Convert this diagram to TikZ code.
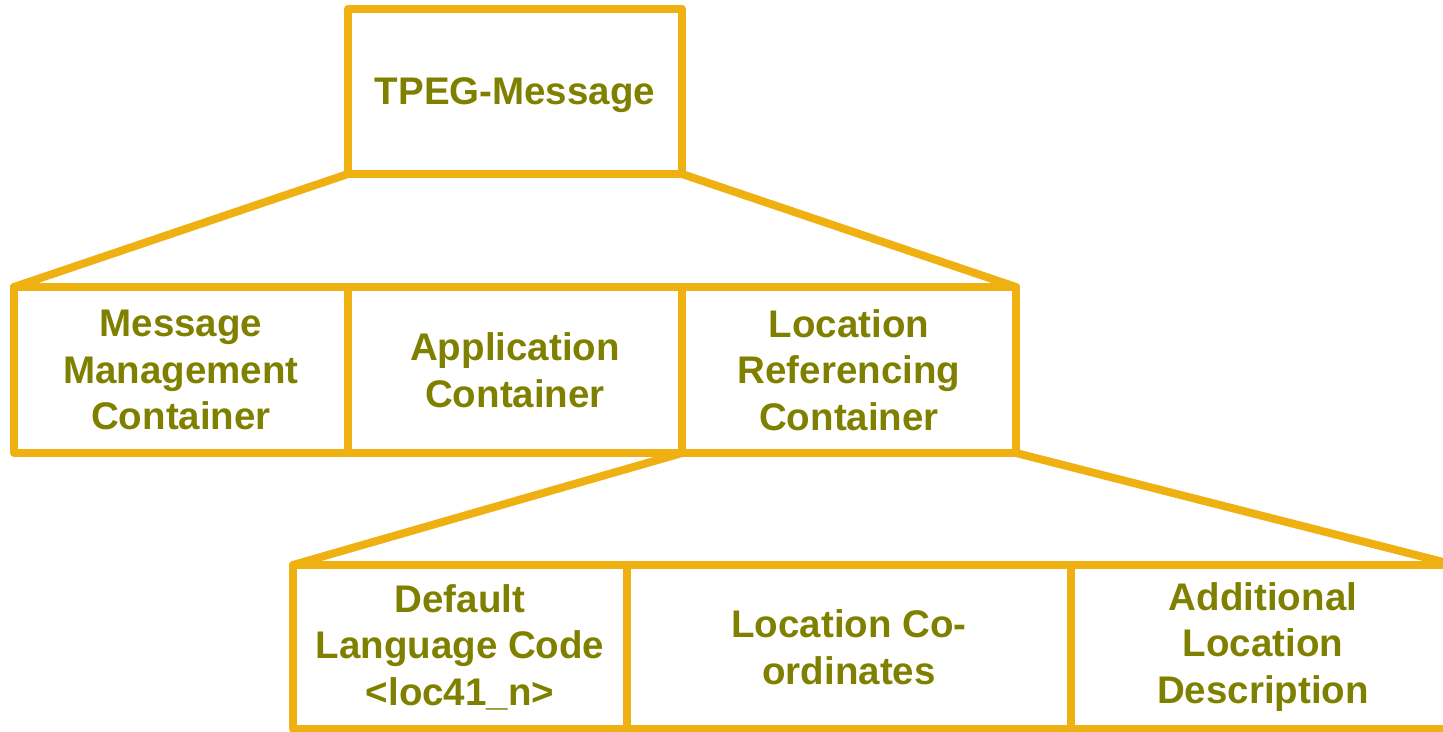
\documentclass[tikz,border=0pt]{standalone}
\usepackage{fontspec}
\setmainfont{Liberation Sans}
\definecolor{boxline}{HTML}{EFB111}
\definecolor{boxtext}{HTML}{808000}

\tikzset{
	part/.style={draw=boxline, line width=8pt, line join=round, rectangle,
		inner sep=0pt, outer sep=0pt, align=center, text=boxtext,
		font=\fontsize{38.5}{46.5}\selectfont\bfseries},
	fan/.style={draw=boxline, line width=8pt, line join=round, line cap=round}
}

\begin{document}
\begin{tikzpicture}[x=1pt,y=-1pt]
\useasboundingbox (0,0) rectangle (1443,731);
\clip (0,0) rectangle (1443,731);
% top
\node[part, minimum width=334pt, minimum height=165pt, text depth=0pt] (tpeg) at (515,91.5) {TPEG-Message};
% containers
\node[part, minimum width=334pt, minimum height=166pt] (mmc) at (181,370) {Message\\Management\\Container};
\node[part, minimum width=334pt, minimum height=166pt] (app) at (515,370) {Application\\Container};
\node[part, minimum width=334pt, minimum height=166pt] (lrc) at (849,370) {Location\\Referencing\\Container};
% location referencing parts
\node[part, minimum width=334pt, minimum height=164pt] (dlc) at (460,647) {Default\\Language Code\\<loc41\_n>};
\node[part, minimum width=444pt, minimum height=164pt] (loc) at (849,647) {Location Co-\\ordinates};
\node[part, minimum width=384pt, minimum height=164pt] (ald) at (1263,647) {Additional\\Location\\Description};
% fans
\draw[fan] (tpeg.south west) -- (mmc.north west);
\draw[fan] (tpeg.south east) -- (lrc.north east);
\draw[fan] (lrc.south west) -- (dlc.north west);
\draw[fan] (lrc.south east) -- (ald.north east);
\end{tikzpicture}
\end{document}
